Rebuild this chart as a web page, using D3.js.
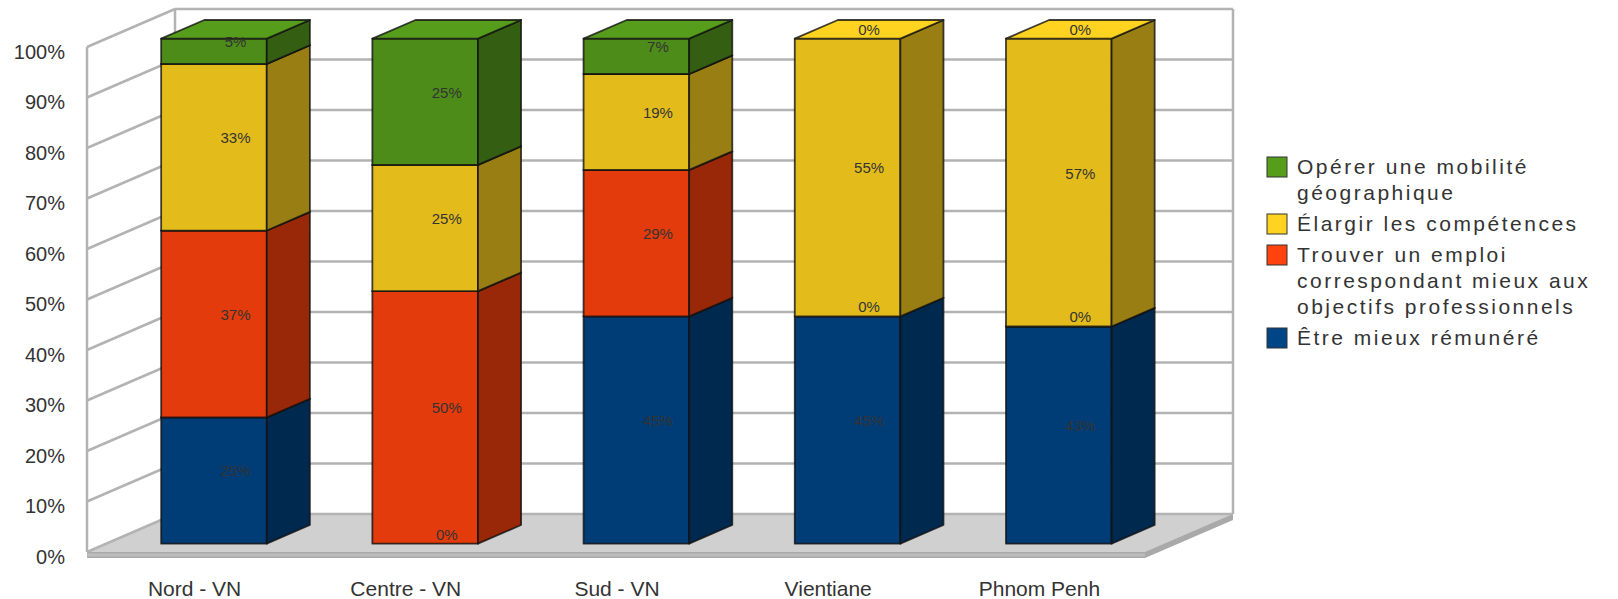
<!DOCTYPE html>
<html>
<head>
<meta charset="utf-8">
<script src="https://cdn.jsdelivr.net/npm/d3@7"></script>
<style>
  body { margin: 0; background: #fff; }
  text { font-family: "Liberation Sans", Arial, sans-serif; }
</style>
</head>
<body>
<svg id="chart" width="1618" height="599"></svg>
<script>
// data (percent of respondents)
var categories = ["Nord - VN", "Centre - VN", "Sud - VN", "Vientiane", "Phnom Penh"];
var remunere = [25, 0, 45, 45, 43];      // Être mieux rémunéré
var emploi = [37, 50, 29, 0, 0];         // Trouver un emploi ...
var competences = [33, 25, 19, 55, 57];  // Élargir les compétences
var mobilite = [5, 25, 7, 0, 0];         // Opérer une mobilité géographique
var seriesKeys = ["remunere", "emploi", "competences", "mobilite"];
var seriesColors = ["#004586", "#ff420e", "#ffd320", "#579d1c"];
var yTicks = [0, 10, 20, 30, 40, 50, 60, 70, 80, 90, 100];
// legend goes top to bottom, last series first
var legendItems = [
  { color: "#579d1c", lines: ["Opérer une mobilité", "géographique"] },
  { color: "#ffd320", lines: ["Élargir les compétences"] },
  { color: "#ff420e", lines: ["Trouver un emploi", "correspondant mieux aux", "objectifs professionnels"] },
  { color: "#004586", lines: ["Être mieux rémunéré"] }
];

var rows = categories.map(function(c, i) {
  return { cat: c, remunere: remunere[i], emploi: emploi[i], competences: competences[i], mobilite: mobilite[i] };
});

var svg = d3.select("#chart");

// front plane of the 3d box, depth goes up and right
var DX = 88, DY = 38;
var x = d3.scaleBand().domain(categories).range([89, 1145]).paddingInner(0.5).paddingOuter(0.25);
var y = d3.scaleLinear().domain([0, 100]).range([552, 47]);
var x0 = 87, x1 = 1145;
var z0 = 0.22, z1 = 0.71, zm = (z0 + z1) / 2;

function shade(c, k) {
  var r = d3.rgb(c);
  return d3.rgb(r.r * k, r.g * k, r.b * k).formatHex();
}
function pts(a) { return a.map(function(p) { return p.join(","); }).join(" "); }

var gridColor = "#b3b3b3";
var walls = svg.append("g");

// left wall
walls.append("polygon")
  .attr("points", pts([[x0, y(0)], [x0, y(100)], [x0 + DX, y(100) - DY], [x0 + DX, y(0) - DY]]))
  .attr("fill", "#fff");

// floor: top and a thin slab
walls.append("polygon")
  .attr("points", pts([[x0, y(0) + 6], [x1, y(0) + 6], [x1 + DX, y(0) - DY + 6], [x1 + DX, y(0) - DY], [x0 + DX, y(0) - DY], [x0, y(0)]]))
  .attr("fill", "#a9a9a9");
walls.append("polygon")
  .attr("points", pts([[x0, y(0)], [x1, y(0)], [x1 + DX, y(0) - DY], [x0 + DX, y(0) - DY]]))
  .attr("fill", "#d0d0d0");
walls.append("line")
  .attr("x1", x0).attr("y1", y(0) + 3).attr("x2", x1).attr("y2", y(0) + 3)
  .attr("stroke", "#bdbdbd").attr("stroke-width", 3);

// gridlines on back and left walls
yTicks.forEach(function(v) {
  walls.append("line")
    .attr("x1", x0 + DX).attr("y1", y(v) - DY).attr("x2", x1 + DX).attr("y2", y(v) - DY)
    .attr("stroke", gridColor).attr("stroke-width", 2.5);
  walls.append("line")
    .attr("x1", x0).attr("y1", y(v)).attr("x2", x0 + DX).attr("y2", y(v) - DY)
    .attr("stroke", gridColor).attr("stroke-width", 2.5);
});
[[x0, 0], [x0 + DX, DY], [x1 + DX, DY]].forEach(function(e) {
  walls.append("line")
    .attr("x1", e[0]).attr("y1", y(0) - e[1]).attr("x2", e[0]).attr("y2", y(100) - e[1])
    .attr("stroke", gridColor).attr("stroke-width", 2.5);
});

// stacked 3d bars
var stacked = d3.stack().keys(seriesKeys)(rows);
var bars = svg.append("g");
var bw = x.bandwidth();

categories.forEach(function(cat, ci) {
  stacked.forEach(function(layer, si) {
    var d = layer[ci];
    if (d[1] - d[0] <= 0) return;
    var c = seriesColors[si];
    var fx0 = x(cat) + z0 * DX, fx1 = fx0 + bw;
    var yb = y(d[0]) - z0 * DY, yt = y(d[1]) - z0 * DY;
    var ddx = (z1 - z0) * DX, ddy = (z1 - z0) * DY;
    var g = bars.append("g")
      .attr("stroke", "#111").attr("stroke-opacity", 0.8)
      .attr("stroke-width", 1.8).attr("stroke-linejoin", "round");
    g.append("polygon")
      .attr("points", pts([[fx0, yb], [fx1, yb], [fx1, yt], [fx0, yt]]))
      .attr("fill", shade(c, 0.89));
    g.append("polygon")
      .attr("points", pts([[fx1, yb], [fx1 + ddx, yb - ddy], [fx1 + ddx, yt - ddy], [fx1, yt]]))
      .attr("fill", shade(c, 0.6));
    g.append("polygon")
      .attr("points", pts([[fx0, yt], [fx1, yt], [fx1 + ddx, yt - ddy], [fx0 + ddx, yt - ddy]]))
      .attr("fill", c);
  });
});

// value labels sit at the middle of each bar's depth
var labels = svg.append("g");
stacked.forEach(function(layer) {
  layer.forEach(function(d, ci) {
    var cat = categories[ci];
    labels.append("text")
      .attr("x", x(cat) + bw / 2 + zm * DX)
      .attr("y", y((d[0] + d[1]) / 2) - zm * DY)
      .attr("dy", "0.35em")
      .attr("text-anchor", "middle")
      .attr("font-size", 15)
      .attr("fill", "#333")
      .text((d[1] - d[0]) + "%");
  });
});

// y axis on the front plane
var yAxis = svg.append("g")
  .attr("transform", "translate(" + x0 + ",0)")
  .call(d3.axisLeft(y).tickValues(yTicks).tickSize(0).tickPadding(22).tickFormat(function(d) { return d + "%"; }));
yAxis.select(".domain").remove();
yAxis.selectAll("text")
  .attr("font-size", 20).attr("fill", "#333").attr("dy", "0.55em")
  .style("font-family", "'Liberation Sans', Arial, sans-serif");

// category labels
var xAxis = svg.append("g")
  .attr("transform", "translate(0,566)")
  .call(d3.axisBottom(x).tickSize(0).tickPadding(15));
xAxis.select(".domain").remove();
xAxis.selectAll("text")
  .attr("font-size", 21).attr("fill", "#333")
  .style("font-family", "'Liberation Sans', Arial, sans-serif");

// legend
var legend = svg.append("g");
var lineH = 26, gap = 5, base = 174;
legendItems.forEach(function(item) {
  legend.append("rect")
    .attr("x", 1267).attr("y", base - 17)
    .attr("width", 20).attr("height", 20)
    .attr("fill", item.color).attr("stroke", "#333").attr("stroke-width", 1);
  item.lines.forEach(function(t, li) {
    legend.append("text")
      .attr("x", 1297).attr("y", base + li * lineH)
      .attr("font-size", 21).attr("fill", "#333")
      .attr("letter-spacing", "2.5px")
      .text(t);
  });
  base += item.lines.length * lineH + gap;
});
</script>
</body>
</html>
